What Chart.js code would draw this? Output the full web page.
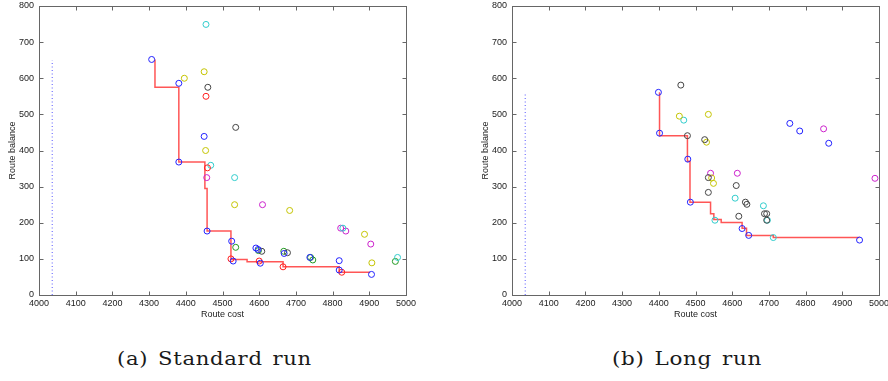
<!DOCTYPE html>
<html>
<head>
<meta charset="utf-8">
<script src="https://cdn.jsdelivr.net/npm/chart.js@4.4.1/dist/chart.umd.min.js"></script>
<style>
  html, body { margin: 0; padding: 0; background: #fff; overflow: hidden; }
  body { width: 888px; height: 381px; position: relative; }
  .plot { position: absolute; top: 0; }
  .caption {
    position: absolute; top: 348px; white-space: nowrap;
    font-family: "DejaVu Serif", serif; font-size: 18px; color: #1a1a1a;
    letter-spacing: 0.6px; word-spacing: 2px; transform-origin: 0 0;
  }
</style>
</head>
<body>
<div class="plot" style="left:0;width:440px;height:320px"><canvas id="standard"></canvas></div>
<div class="plot" style="left:440px;width:448px;height:320px"><canvas id="long"></canvas></div>
<div class="caption" id="capA" data-left="117" data-right="312">(a) Standard run</div>
<div class="caption" id="capB" data-left="612" data-right="762">(b) Long run</div>
<script>
// ---- Standard run: solutions per colour group [cost, balance]
const stdBlue = [[4307, 652], [4381, 586], [4381, 368], [4450, 439], [4458, 177], [4525, 149], [4529, 94],
  [4591, 130], [4597, 126], [4603, 88], [4668, 115], [4738, 104], [4818, 95], [4818, 69], [4906, 57]];
const stdRed = [[4455, 550], [4459, 352], [4523, 100], [4600, 94], [4665, 78], [4825, 63]];
const stdYellow = [[4396, 600], [4450, 618], [4454, 400], [4533, 250], [4683, 234], [4887, 168], [4907, 89]];
const stdCyan = [[4455, 749], [4468, 359], [4533, 325], [4828, 185], [4977, 104]];
const stdBlack = [[4460, 575], [4536, 464], [4607, 121], [4677, 117]];
const stdMagenta = [[4457, 325], [4609, 250], [4822, 185], [4836, 177], [4904, 141]];
const stdGreen = [[4536, 132], [4598, 123], [4667, 121], [4740, 104], [4746, 97], [4971, 93]];
const stdFront = [[4316, 652], [4381, 575], [4452, 368], [4458, 295], [4523, 177], [4567, 98],
  [4665, 92], [4818, 78], [4902, 63]];
const stdMarker = [[4036, 0], [4036, 650]];

// ---- Long run
const longBlue = [[4399, 561], [4402, 448], [4479, 376], [4486, 257], [4627, 184], [4645, 165],
  [4757, 475], [4784, 454], [4863, 420], [4947, 152]];
const longBlack = [[4460, 581], [4478, 441], [4525, 430], [4535, 325], [4535, 284], [4611, 303], [4618, 218],
  [4636, 257], [4640, 251], [4688, 225], [4694, 225], [4694, 207]];
const longYellow = [[4456, 495], [4535, 500], [4530, 423], [4544, 324], [4549, 309]];
const longCyan = [[4468, 484], [4553, 207], [4608, 268], [4685, 247], [4696, 207], [4712, 159]];
const longMagenta = [[4541, 337], [4614, 337], [4849, 460], [4989, 323]];
const longFront = [[4402, 561], [4478, 441], [4485, 370], [4541, 257], [4550, 225], [4570, 209],
  [4627, 201], [4639, 185], [4712, 165], [4947, 159]];
const longMarker = [[4036, 0], [4036, 559]];

const xTicks = [4000, 4100, 4200, 4300, 4400, 4500, 4600, 4700, 4800, 4900, 5000];
const yTicks = [0, 100, 200, 300, 400, 500, 600, 700, 800];

const colors = {
  blue: '#2222ff', red: '#ff2020', yellow: '#c4c400', cyan: '#30cccc',
  black: '#444444', magenta: '#cc22cc', green: '#229922'
};

const xy = pts => pts.map(p => ({ x: p[0], y: p[1] }));

function circles(pts, color) {
  return {
    type: 'scatter', data: xy(pts), showLine: false,
    pointStyle: 'circle', pointRadius: 3, pointBorderWidth: 1,
    borderColor: color, backgroundColor: 'transparent', pointBackgroundColor: 'transparent'
  };
}

function front(pts) {
  return {
    type: 'line', data: xy(pts), stepped: 'after', pointRadius: 0,
    borderColor: 'rgba(255,30,30,0.75)', borderWidth: 1.5, fill: false
  };
}

function marker(pts) {
  return {
    type: 'line', data: xy(pts), pointRadius: 0,
    borderColor: '#5555ff', borderWidth: 1, borderDash: [1, 2.5], fill: false
  };
}

// matlab-like box: grey frame with inward ticks on all four sides
const boxTicks = {
  id: 'boxTicks',
  afterDraw(chart) {
    const { ctx, chartArea: a, scales: { x, y } } = chart;
    ctx.save();
    ctx.strokeStyle = '#666';
    ctx.lineWidth = 1;
    const L = Math.round(a.left) + 0.5, R = Math.round(a.right) + 0.5;
    const T = Math.round(a.top) + 0.5, B = Math.round(a.bottom) + 0.5;
    ctx.strokeRect(L, T, R - L, B - T);
    ctx.beginPath();
    xTicks.forEach(v => {
      const px = Math.round(x.getPixelForValue(v)) + 0.5;
      ctx.moveTo(px, B); ctx.lineTo(px, B - 4);
      ctx.moveTo(px, T); ctx.lineTo(px, T + 4);
    });
    yTicks.forEach(v => {
      const py = Math.round(y.getPixelForValue(v)) + 0.5;
      ctx.moveTo(L, py); ctx.lineTo(L + 4, py);
      ctx.moveTo(R, py); ctx.lineTo(R - 4, py);
    });
    ctx.stroke();
    ctx.restore();
  }
};

const tickFont = { family: 'Liberation Sans, Arial, sans-serif', size: 9 };

function makeChart(id, sets, pad) {
  new Chart(document.getElementById(id), {
    data: { datasets: sets },
    plugins: [boxTicks],
    options: {
      responsive: true,
      maintainAspectRatio: false,
      animation: false,
      layout: { padding: pad },
      plugins: { legend: { display: false }, tooltip: { enabled: false } },
      scales: {
        x: {
          type: 'linear', min: 4000, max: 5000,
          afterBuildTicks: s => { s.ticks = xTicks.map(v => ({ value: v })); },
          afterFit: s => { s.height = 25; s.paddingLeft = 0; s.paddingRight = 0; },
          grid: { display: false, drawTicks: false },
          border: { display: false },
          ticks: { font: tickFont, color: '#222', padding: 3, maxRotation: 0, autoSkip: false, callback: v => String(v) },
          title: { display: true, text: 'Route cost', font: tickFont, color: '#222', padding: { top: 0, bottom: 0 } }
        },
        y: {
          type: 'linear', min: 0, max: 800,
          afterBuildTicks: s => { s.ticks = yTicks.map(v => ({ value: v })); },
          afterFit: s => { s.width = 39; s.paddingTop = 0; s.paddingBottom = 0; },
          grid: { display: false, drawTicks: false },
          border: { display: false },
          ticks: { font: tickFont, color: '#222', padding: 5, autoSkip: false, callback: v => String(v) },
          title: { display: true, text: 'Route balance', font: tickFont, color: '#222', padding: { top: 7, bottom: 0 } }
        }
      }
    }
  });
}

makeChart('standard', [
  circles(stdBlue, colors.blue), circles(stdRed, colors.red), circles(stdYellow, colors.yellow),
  circles(stdCyan, colors.cyan), circles(stdBlack, colors.black), circles(stdMagenta, colors.magenta),
  circles(stdGreen, colors.green), front(stdFront), marker(stdMarker)
], { top: 6, right: 34, left: 0, bottom: 0 });

makeChart('long', [
  circles(longBlue, colors.blue), circles(longBlack, colors.black), circles(longYellow, colors.yellow),
  circles(longCyan, colors.cyan), circles(longMagenta, colors.magenta), front(longFront), marker(longMarker)
], { top: 6, right: 9, left: 33, bottom: 0 });

// stretch each caption across its span under the plot
document.querySelectorAll('.caption').forEach(el => {
  const l = +el.dataset.left, r = +el.dataset.right;
  const w = el.getBoundingClientRect().width;
  el.style.left = l + 'px';
  el.style.transform = 'scaleX(' + ((r - l) / w).toFixed(3) + ')';
});
</script>
</body>
</html>
